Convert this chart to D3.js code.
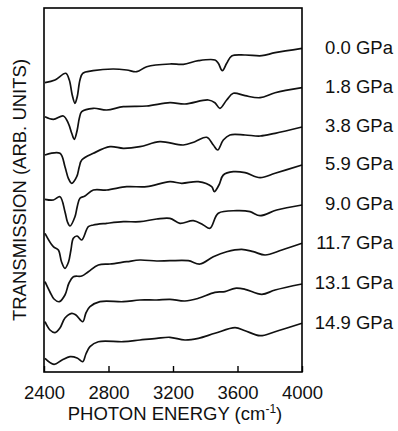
<!DOCTYPE html>
<html>
<head>
<meta charset="utf-8">
<script src="https://cdn.jsdelivr.net/npm/d3@7"></script>
<style>
  html, body { margin: 0; padding: 0; background: #fff; }
  svg { display: block; font-family: "Liberation Sans", Arial, Helvetica, sans-serif; }
</style>
</head>
<body>
<svg id="chart" width="398" height="431"></svg>
<script>
// ---- Data ----
const pressures = ["0.0 GPa", "1.8 GPa", "3.8 GPa", "5.9 GPa", "9.0 GPa", "11.7 GPa", "13.1 GPa", "14.9 GPa"];
const xTicks = [2400, 2800, 3200, 3600, 4000];

// photon energy (cm^-1), transmission (arb. units, offset per spectrum)
const spec00 = [[2406,28.93],[2468,29.2],[2535,29.87],[2557,29.2],[2575,27.7],[2592,26.87],[2606,27.53],[2623,29.2],[2640,29.87],[2704,30.13],[2828,30.3],[2913,30.2],[2975,30.03],[3037,30.53],[3181,30.8],[3264,30.77],[3357,31.13],[3460,31.2],[3481,30.87],[3506,30.13],[3533,30.87],[3564,31.6],[3647,31.7],[3751,31.63],[3833,31.93],[4000,32.37]];
const spec18 = [[2406,25.53],[2458,25.27],[2520,25.6],[2551,24.87],[2572,23.87],[2588,23.27],[2606,24.2],[2619,25.37],[2634,26.03],[2706,26.37],[2789,26.2],[2892,26.53],[3037,26.6],[3181,26.93],[3274,26.8],[3419,27.2],[3460,26.93],[3491,26.37],[3533,27.2],[3574,27.87],[3647,27.63],[3740,27.43],[3833,27.93],[4000,28.43]];
const spec38 = [[2406,21.7],[2499,21.87],[2530,20.53],[2551,19.37],[2572,18.87],[2603,19.53],[2619,20.53],[2634,21.2],[2706,21.87],[2809,22.53],[2892,22.37],[2995,22.53],[3119,23.03],[3264,22.7],[3336,23.03],[3409,23.47],[3450,22.7],[3477,22.2],[3512,23.2],[3553,23.7],[3647,23.7],[3740,23.6],[3833,23.87],[4000,24.5]];
const spec59 = [[2406,17.27],[2458,17.2],[2499,17.53],[2530,16.03],[2545,15.03],[2561,14.6],[2592,15.53],[2606,16.53],[2623,17.37],[2654,17.6],[2706,18.2],[2789,18.2],[2913,18.53],[3037,18.53],[3181,19.03],[3254,18.87],[3357,19.03],[3440,18.53],[3456,18.03],[3485,18.7],[3512,19.7],[3574,20.03],[3647,19.93],[3740,19.43],[3833,19.87],[4000,20.7]];
const spec90 = [[2406,13.87],[2458,12.53],[2489,12.2],[2509,11.0],[2530,10.37],[2552,11.0],[2567,12.2],[2582,13.37],[2605,13.6],[2634,13.2],[2675,14.53],[2706,14.7],[2789,14.87],[2892,15.03],[2995,15.03],[3099,15.3],[3181,15.37],[3243,14.87],[3326,15.13],[3388,14.7],[3429,14.37],[3481,15.87],[3595,16.13],[3678,16.03],[3740,15.63],[3843,16.2],[4000,16.7]];
const spec117 = [[2406,9.03],[2437,8.0],[2462,7.3],[2495,7.03],[2530,7.7],[2555,8.9],[2582,9.53],[2634,9.6],[2675,10.03],[2737,10.7],[2809,10.8],[2913,11.03],[2995,11.2],[3099,11.1],[3181,11.13],[3295,11.13],[3367,10.8],[3450,11.53],[3533,12.03],[3626,12.27],[3698,12.03],[3771,11.7],[3875,12.2],[4000,12.87]];
const spec131 = [[2406,5.03],[2437,4.2],[2468,3.93],[2499,4.4],[2530,5.4],[2572,5.87],[2598,5.7],[2640,5.03],[2660,5.9],[2685,6.53],[2747,7.03],[2892,7.03],[2995,7.2],[3099,7.2],[3181,7.27],[3274,7.1],[3357,7.37],[3460,7.97],[3522,8.03],[3585,8.37],[3647,8.27],[3751,7.77],[3833,8.2],[4000,8.8]];
const spec149 = [[2406,1.37],[2462,0.77],[2512,1.2],[2561,1.53],[2605,1.4],[2640,1.03],[2660,1.8],[2685,2.53],[2737,3.03],[2892,3.03],[2995,3.2],[3099,3.37],[3181,3.47],[3274,3.2],[3357,3.37],[3460,3.87],[3585,4.43],[3647,4.13],[3740,3.63],[3833,4.03],[4000,4.87]];

const spectra = [spec00, spec18, spec38, spec59, spec90, spec117, spec131, spec149];

// ---- Layout ----
const svg = d3.select("#chart");
const margin = { left: 44, right: 96, top: 8, bottom: 59 };
const W = 398, H = 431;
const x = d3.scaleLinear().domain([2400, 4000]).range([margin.left, W - margin.right]);
const y = d3.scaleLinear().domain([0, 36.4]).range([H - margin.bottom, margin.top]);

const font = 18.5;

// spectra
const line = d3.line().x(d => x(d[0])).y(d => y(d[1])).curve(d3.curveCatmullRom.alpha(0.5));
svg.append("g").selectAll("path").data(spectra).join("path")
  .attr("d", line)
  .attr("fill", "none")
  .attr("stroke", "#111")
  .attr("stroke-width", 1.7)
  .attr("stroke-linejoin", "round");

// frame
svg.append("rect")
  .attr("x", x(2400)).attr("y", y(36.4))
  .attr("width", x(4000) - x(2400)).attr("height", y(0) - y(36.4))
  .attr("fill", "none").attr("stroke", "#000").attr("stroke-width", 1.6);

// bottom axis: inward ticks
const xAxis = d3.axisBottom(x).tickValues(xTicks).tickSize(-6).tickPadding(14).tickFormat(d3.format("d"));
const gx = svg.append("g").attr("transform", `translate(0,${y(0)})`).call(xAxis);
gx.select(".domain").remove();
gx.selectAll(".tick line").attr("stroke", "#000").attr("stroke-width", 1.4);
gx.selectAll(".tick text")
  .attr("font-size", font).attr("fill", "#111")
  .attr("font-family", "Liberation Sans, Arial, sans-serif");

// x title
const xt = svg.append("text")
  .attr("x", (x(2400) + x(4000)) / 2 + 2).attr("y", 420)
  .attr("text-anchor", "middle").attr("font-size", font).attr("fill", "#111");
xt.append("tspan").text("PHOTON ENERGY (cm");
xt.append("tspan").attr("font-size", 12).attr("dy", -7).text("-1");
xt.append("tspan").attr("dy", 7).text(")");

// y title
svg.append("text")
  .attr("transform", `translate(26,${(y(0) + y(36.4)) / 2}) rotate(-90)`)
  .attr("text-anchor", "middle").attr("font-size", font).attr("fill", "#111")
  .text("TRANSMISSION (ARB. UNITS)");

// pressure labels
svg.append("g").selectAll("text").data(spectra).join("text")
  .attr("x", 393)
  .attr("y", d => y(d[d.length - 1][1]) - 1)
  .attr("dy", "0.35em")
  .attr("text-anchor", "end")
  .attr("font-size", font).attr("fill", "#111")
  .text((d, i) => pressures[i]);
</script>
</body>
</html>
